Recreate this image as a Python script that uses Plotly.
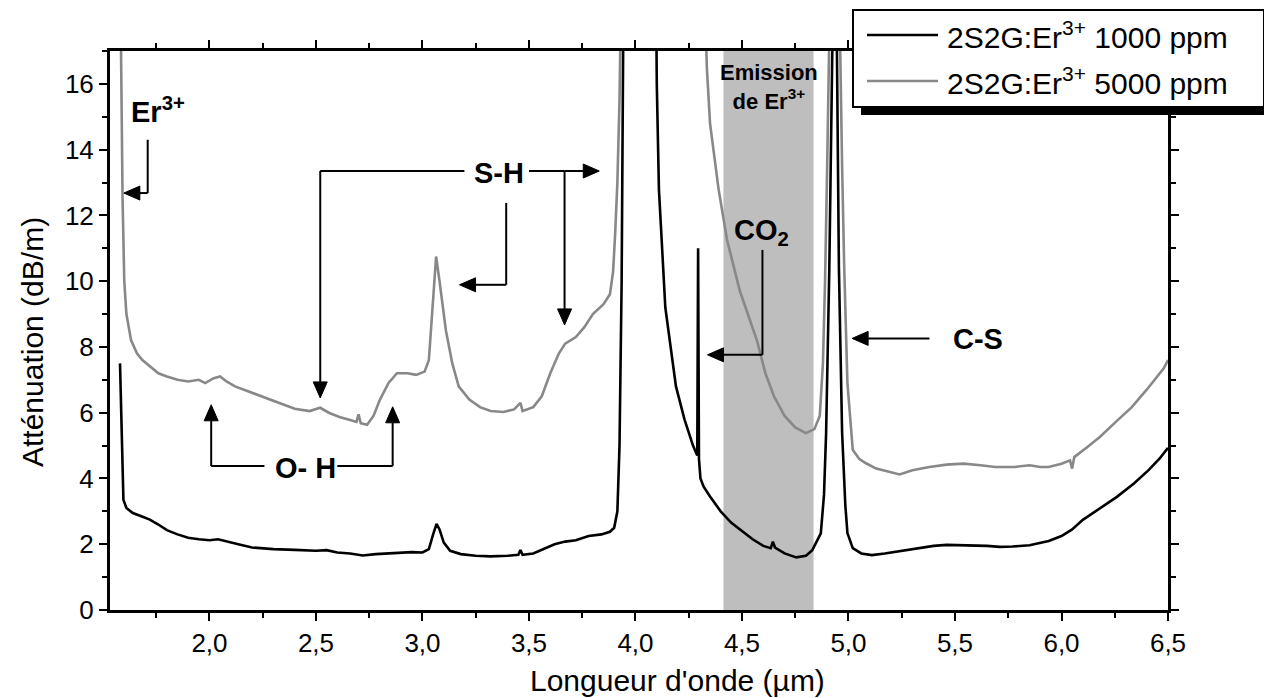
import math
import plotly.graph_objects as go

# ---------------- data ----------------
x_1000 = [1.58, 1.585, 1.59, 1.596, 1.61, 1.64, 1.68, 1.72, 1.76, 1.80, 1.85, 1.90, 1.95, 2.00,
          2.04, 2.08, 2.15, 2.20, 2.30, 2.40, 2.50, 2.55, 2.60, 2.66, 2.72, 2.78, 2.85, 2.95,
          3.00, 3.03, 3.05, 3.066, 3.08, 3.10, 3.13, 3.18, 3.25, 3.32, 3.40, 3.45, 3.46, 3.47,
          3.52, 3.57, 3.62, 3.67, 3.72, 3.78, 3.84, 3.88, 3.90, 3.915, 3.925, 3.935, 3.945,
          4.095, 4.10, 4.11, 4.14, 4.19, 4.23, 4.27, 4.285, 4.29, 4.294, 4.298, 4.305, 4.32,
          4.35, 4.40, 4.45, 4.50, 4.55, 4.60, 4.635, 4.645, 4.655, 4.70, 4.755, 4.80, 4.83,
          4.87, 4.885, 4.895, 4.91, 4.925, 4.935, 4.945, 4.955, 4.97, 4.985, 4.995, 5.02,
          5.06, 5.11, 5.17, 5.25, 5.33, 5.40, 5.46, 5.55, 5.65, 5.71, 5.77, 5.85, 5.94, 6.00,
          6.05, 6.10, 6.18, 6.26, 6.34, 6.41, 6.46, 6.50]
y_1000 = [7.5, 6.0, 4.2, 3.35, 3.1, 2.95, 2.85, 2.75, 2.6, 2.43, 2.3, 2.2, 2.15, 2.12,
          2.15, 2.08, 1.98, 1.9, 1.85, 1.83, 1.8, 1.82, 1.75, 1.72, 1.66, 1.7, 1.73, 1.76,
          1.75, 1.85, 2.3, 2.62, 2.45, 2.05, 1.8, 1.7, 1.65, 1.63, 1.65, 1.68, 1.82, 1.68,
          1.72, 1.85, 2.0, 2.08, 2.12, 2.25, 2.3, 2.38, 2.5, 3.0, 5.0, 10.0, 20.0,
          20.0, 16.0, 12.8, 9.2, 6.8, 5.8, 5.0, 4.75, 4.7, 11.0, 4.6, 4.0, 3.75,
          3.45, 3.0, 2.65, 2.4, 2.15, 1.95, 1.88, 2.08, 1.9, 1.72, 1.6, 1.65, 1.82,
          2.33, 3.5, 5.4, 10.4, 17.5, 21.0, 17.5, 10.4, 5.4, 3.2, 2.34, 1.88,
          1.72, 1.67, 1.72, 1.8, 1.88, 1.95, 1.98, 1.97, 1.95, 1.92, 1.93, 1.97, 2.1, 2.25,
          2.45, 2.74, 3.1, 3.44, 3.85, 4.26, 4.6, 4.93]

x_5000 = [1.58, 1.585, 1.592, 1.60, 1.61, 1.632, 1.66, 1.685, 1.72, 1.76, 1.80, 1.85, 1.90,
          1.95, 1.98, 2.02, 2.05, 2.08, 2.12, 2.20, 2.30, 2.40, 2.47, 2.52, 2.56, 2.61, 2.66,
          2.69, 2.70, 2.71, 2.74, 2.77, 2.80, 2.84, 2.88, 2.93, 2.97, 3.01, 3.03, 3.045,
          3.064, 3.08, 3.095, 3.11, 3.14, 3.17, 3.22, 3.27, 3.32, 3.38, 3.43, 3.46, 3.47,
          3.52, 3.56, 3.60, 3.64, 3.67, 3.72, 3.76, 3.80, 3.85, 3.88, 3.895, 3.905, 3.915,
          3.925, 3.935, 4.32, 4.335, 4.35, 4.39, 4.43, 4.49, 4.57, 4.61, 4.65, 4.70, 4.75,
          4.80, 4.84, 4.865, 4.88, 4.89, 4.90, 4.91, 4.935, 4.96, 4.97, 4.98, 4.995, 5.02,
          5.05, 5.08, 5.13, 5.19, 5.24, 5.30, 5.38, 5.46, 5.54, 5.62, 5.69, 5.78, 5.85, 5.90,
          5.94, 6.00, 6.04, 6.05, 6.06, 6.12, 6.18, 6.26, 6.33, 6.40, 6.46, 6.48, 6.50]
y_5000 = [20.0, 16.0, 12.5, 10.0, 9.0, 8.2, 7.8, 7.6, 7.4, 7.2, 7.1, 7.0, 6.95,
          7.0, 6.9, 7.05, 7.1, 6.95, 6.8, 6.6, 6.35, 6.12, 6.05, 6.15, 6.0, 5.87, 5.78,
          5.72, 5.95, 5.68, 5.63, 5.9, 6.39, 6.9, 7.2, 7.2, 7.15, 7.25, 7.6, 9.0,
          10.75, 10.0, 9.2, 8.5, 7.5, 6.8, 6.4, 6.17, 6.05, 6.02, 6.1, 6.3, 6.05,
          6.17, 6.5, 7.2, 7.8, 8.1, 8.3, 8.6, 9.0, 9.3, 9.6, 10.3, 11.5, 13.0,
          15.5, 20.0, 20.0, 16.5, 14.8, 12.8, 11.25, 9.7, 8.2, 7.2, 6.5, 5.9, 5.55,
          5.38, 5.5, 5.9, 7.5, 10.0, 13.5, 17.5, 21.0, 17.5, 13.5, 10.4, 6.9, 4.87,
          4.6, 4.47, 4.3, 4.2, 4.12, 4.25, 4.35, 4.42, 4.45, 4.4, 4.35, 4.35, 4.4, 4.35,
          4.35, 4.45, 4.55, 4.3, 4.65, 4.95, 5.26, 5.75, 6.17, 6.7, 7.2, 7.35, 7.6]

series_names = ["2S2G:Er<sup>3+</sup> 1000 ppm", "2S2G:Er<sup>3+</sup> 5000 ppm"]
series_colors = ["#000000", "#888888"]
emission_band = [4.413, 4.836]

x_tickvals = [2.0, 2.5, 3.0, 3.5, 4.0, 4.5, 5.0, 5.5, 6.0, 6.5]
y_tickvals = [0, 2, 4, 6, 8, 10, 12, 14, 16]
x_title = "Longueur d'onde (µm)"
y_title = "Atténuation (dB/m)"

# ---------------- figure ----------------
FONT = "Liberation Sans, Arial, sans-serif"
OFF = 8                       # page body margin of the html page
FIG_W, FIG_H = 1272 - OFF, 698 - OFF
L, T, W, H = 110, 51, 1058, 559   # plot area in screen pixels
XR, YR = [1.533, 6.5], [0, 17]
XS = W / (XR[1] - XR[0])      # px per x unit
YS = H / (YR[1] - YR[0])      # px per y unit

fig = go.Figure()
fig.add_trace(go.Scatter(x=x_5000, y=y_5000, mode="lines", name=series_names[1],
                         line=dict(color=series_colors[1], width=2.6), showlegend=False))
fig.add_trace(go.Scatter(x=x_1000, y=y_1000, mode="lines", name=series_names[0],
                         line=dict(color=series_colors[0], width=2.6), showlegend=False))

# emission band
fig.add_shape(type="rect", xref="x", yref="y", x0=emission_band[0], x1=emission_band[1],
              y0=0, y1=17, fillcolor="rgb(190,190,190)", line=dict(width=0), layer="below")

LW = 2
HEAD_LEN, HEAD_HW = 16, 7

def poly(points):
    p = "M " + " L ".join(f"{a},{b}" for a, b in points)
    fig.add_shape(type="path", xref="x", yref="y", path=p, line=dict(color="black", width=LW))

def arrow(tail, tip):
    dx = (tip[0] - tail[0]) * XS
    dy = (tip[1] - tail[1]) * YS
    n = math.hypot(dx, dy)
    ux, uy = dx / n, dy / n
    bx, by = tip[0] - ux * HEAD_LEN / XS, tip[1] - uy * HEAD_LEN / YS
    poly([tail, (bx, by)])
    p1 = (bx - uy * HEAD_HW / XS, by + ux * HEAD_HW / YS)
    p2 = (bx + uy * HEAD_HW / XS, by - ux * HEAD_HW / YS)
    path = f"M {tip[0]},{tip[1]} L {p1[0]},{p1[1]} L {p2[0]},{p2[1]} Z"
    fig.add_shape(type="path", xref="x", yref="y", path=path, fillcolor="black",
                  line=dict(color="black", width=1))

def label(x, y, text, size=29):
    fig.add_annotation(x=x, y=y, xref="x", yref="y", text=f"<b>{text}</b>", showarrow=False,
                       font=dict(family=FONT, size=size, color="black"))

# Er3+
label(1.756, 15.2, "Er<sup>3+</sup>")
poly([(1.71, 14.3), (1.71, 12.68)])
arrow((1.71, 12.68), (1.598, 12.68))
# S-H
label(3.36, 13.3, "S-H")
poly([(3.197, 13.35), (2.52, 13.35)])
arrow((2.52, 13.35), (2.52, 6.45))
poly([(3.50, 13.35), (3.667, 13.35)])
arrow((3.667, 13.35), (3.83, 13.35))
arrow((3.667, 13.35), (3.667, 8.67))
poly([(3.393, 12.38), (3.393, 9.89)])
arrow((3.393, 9.89), (3.174, 9.89))
# O-H
label(2.45, 4.32, "O- H")
poly([(2.258, 4.38), (2.008, 4.38)])
arrow((2.008, 4.38), (2.008, 6.24))
poly([(2.60, 4.38), (2.86, 4.38)])
arrow((2.86, 4.38), (2.86, 6.18))
# CO2
label(4.59, 11.5, "CO<sub>2</sub>")
poly([(4.596, 10.95), (4.596, 7.76)])
arrow((4.596, 7.76), (4.338, 7.76))
# C-S
label(5.606, 8.24, "C-S")
arrow((5.38, 8.26), (5.017, 8.26))
# Emission
label(4.625, 15.9, "Emission<br>de Er<sup>3+</sup>", size=22)

# ---------------- manual legend + axis titles (paper coords from screen pixels) ----------
def px(xs): return (xs - L) / W
def py(ys): return (T + H - ys) / H

fig.add_shape(type="rect", xref="paper", yref="paper", x0=px(861), x1=px(1272),
              y0=py(115), y1=py(17), fillcolor="black", line=dict(width=0), layer="above")
fig.add_shape(type="rect", xref="paper", yref="paper", x0=px(853), x1=px(1264),
              y0=py(107), y1=py(10), fillcolor="white", line=dict(color="black", width=2),
              layer="above")
for i, yy in enumerate([35, 81]):
    fig.add_shape(type="line", xref="paper", yref="paper", x0=px(867), x1=px(938),
                  y0=py(yy), y1=py(yy), line=dict(color=series_colors[i], width=2.6),
                  layer="above")
    fig.add_annotation(xref="paper", yref="paper", x=px(945), y=py(yy), xanchor="left",
                       yanchor="middle", text=series_names[i], showarrow=False,
                       font=dict(family=FONT, size=30, color="black"))

fig.add_annotation(xref="paper", yref="paper", x=px(677), y=py(680), xanchor="center",
                   yanchor="middle", text=x_title, showarrow=False,
                   font=dict(family=FONT, size=30, color="black"))
fig.add_annotation(xref="paper", yref="paper", x=px(32), y=py(342), xanchor="center",
                   yanchor="middle", text=y_title, showarrow=False, textangle=-90,
                   font=dict(family=FONT, size=30, color="black"))

axis_common = dict(showline=True, linecolor="black", linewidth=3, mirror="ticks",
                   ticks="outside", tickcolor="black", tickwidth=2, ticklen=8,
                   showgrid=False, zeroline=False,
                   tickfont=dict(family=FONT, size=26, color="black"))

fig.update_layout(
    width=FIG_W, height=FIG_H,
    margin=dict(l=L - OFF, r=FIG_W - (L - OFF) - W, t=T - OFF, b=FIG_H - (T - OFF) - H,
                autoexpand=False),
    paper_bgcolor="white", plot_bgcolor="white",
    separators=", ",
    showlegend=False,
    font=dict(family=FONT, size=26, color="black"),
    xaxis=dict(range=XR, tickvals=x_tickvals, tickformat=".1f",
               minor=dict(dtick=0.25, tick0=0, ticks="outside", ticklen=5, tickwidth=2,
                          tickcolor="black"),
               **axis_common),
    yaxis=dict(range=YR, tickvals=y_tickvals,
               minor=dict(dtick=1, tick0=0, ticks="outside", ticklen=5, tickwidth=2,
                          tickcolor="black"),
               **axis_common),
)

fig.write_html("out.html")
